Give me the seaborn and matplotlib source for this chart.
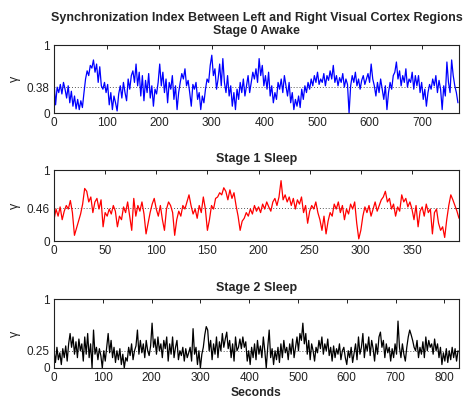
import numpy as np
import pandas as pd
import matplotlib
matplotlib.use("Agg")
import matplotlib.pyplot as plt
import seaborn as sns

# ---------------- data ----------------
main_title = "Synchronization Index Between Left and Right Visual Cortex Regions"
stage_titles = ["Stage 0 Awake", "Stage 1 Sleep", "Stage 2 Sleep"]
x_label = "Seconds"
y_label = "γ"
means = [0.38, 0.46, 0.25]
mean_labels = ["0.38", "0.46", "0.25"]
x_max = [770, 396, 830]
x_ticks = [
    [0, 100, 200, 300, 400, 500, 600, 700],
    [0, 50, 100, 150, 200, 250, 300, 350],
    [0, 100, 200, 300, 400, 500, 600, 700, 800],
]
steps = [3, 2, 3]
colors = ["#0000ff", "#ff0000", "#000000"]

awake = [
    0.45, 0.12, 0.38, 0.30, 0.42, 0.28, 0.45, 0.35, 0.22, 0.40,
    0.15, 0.32, 0.10, 0.25, 0.06, 0.20, 0.05, 0.18, 0.08, 0.30,
    0.50, 0.62, 0.55, 0.70, 0.66, 0.78, 0.60, 0.72, 0.45, 0.68,
    0.40, 0.35, 0.45, 0.30, 0.42, 0.12, 0.30, 0.05, 0.25, 0.15,
    0.03, 0.28, 0.40, 0.22, 0.45, 0.30, 0.18, 0.50, 0.35, 0.55,
    0.62, 0.45, 0.72, 0.40, 0.60, 0.25, 0.55, 0.18, 0.48, 0.30,
    0.58, 0.22, 0.40, 0.10, 0.35, 0.28, 0.45, 0.72, 0.40, 0.60,
    0.30, 0.50, 0.15, 0.45, 0.35, 0.55, 0.20, 0.40, 0.05, 0.30,
    0.45, 0.58, 0.50, 0.65, 0.40, 0.48, 0.30, 0.10, 0.42, 0.35,
    0.45, 0.20, 0.30, 0.05, 0.25, 0.15, 0.35, 0.50, 0.45, 0.70,
    0.85, 0.55, 0.65, 0.35, 0.50, 0.72, 0.40, 0.80, 0.45, 0.30,
    0.55, 0.25, 0.40, 0.10, 0.30, 0.05, 0.35, 0.20, 0.45, 0.30,
    0.50, 0.25, 0.40, 0.55, 0.30, 0.45, 0.60, 0.50, 0.65, 0.45,
    0.80, 0.55, 0.70, 0.40, 0.55, 0.35, 0.60, 0.25, 0.40, 0.15,
    0.30, 0.20, 0.45, 0.35, 0.50, 0.30, 0.55, 0.40, 0.25, 0.45,
    0.15, 0.30, 0.05, 0.20, 0.10, 0.25, 0.08, 0.35, 0.20, 0.40,
    0.30, 0.45, 0.35, 0.50, 0.40, 0.55, 0.45, 0.60, 0.42, 0.50,
    0.45, 0.58, 0.40, 0.55, 0.48, 0.62, 0.50, 0.70, 0.45, 0.55,
    0.40, 0.52, 0.45, 0.58, 0.38, 0.50, 0.42, 0.00, 0.40, 0.55,
    0.45, 0.60, 0.40, 0.50, 0.35, 0.48, 0.55, 0.42, 0.50, 0.58,
    0.45, 0.72, 0.50, 0.40, 0.25, 0.45, 0.30, 0.50, 0.35, 0.20,
    0.40, 0.05, 0.30, 0.45, 0.35, 0.55, 0.60, 0.75, 0.50, 0.62,
    0.40, 0.55, 0.45, 0.65, 0.38, 0.50, 0.45, 0.60, 0.35, 0.55,
    0.40, 0.55, 0.30, 0.45, 0.20, 0.35, 0.10, 0.30, 0.42, 0.35,
    0.50, 0.40, 0.55, 0.30, 0.48, 0.35, 0.05, 0.40, 0.25, 0.75,
    0.45, 0.30, 0.78, 0.55, 0.40, 0.30, 0.15,
]

sleep1 = [
    0.30, 0.45, 0.35, 0.48, 0.30, 0.42, 0.50, 0.45, 0.57, 0.40,
    0.08, 0.18, 0.28, 0.38, 0.52, 0.74, 0.70, 0.55, 0.62, 0.40,
    0.55, 0.60, 0.45, 0.58, 0.20, 0.40, 0.35, 0.45, 0.38, 0.50,
    0.42, 0.20, 0.35, 0.30, 0.48, 0.40, 0.55, 0.35, 0.15, 0.60,
    0.35, 0.50, 0.42, 0.55, 0.38, 0.10, 0.25, 0.40, 0.52, 0.60,
    0.45, 0.35, 0.50, 0.30, 0.15, 0.45, 0.55, 0.50, 0.40, 0.08,
    0.30, 0.42, 0.35, 0.50, 0.45, 0.55, 0.65, 0.50, 0.38, 0.45,
    0.32, 0.50, 0.40, 0.62, 0.45, 0.15, 0.30, 0.50, 0.45, 0.60,
    0.62, 0.68, 0.65, 0.75, 0.70, 0.58, 0.72, 0.60, 0.68, 0.50,
    0.35, 0.15, 0.28, 0.32, 0.40, 0.35, 0.45, 0.38, 0.50, 0.42,
    0.48, 0.40, 0.52, 0.45, 0.55, 0.48, 0.42, 0.55, 0.60, 0.50,
    0.62, 0.85, 0.58, 0.65, 0.55, 0.62, 0.50, 0.60, 0.45, 0.58,
    0.52, 0.62, 0.40, 0.50, 0.25, 0.42, 0.50, 0.45, 0.55, 0.40,
    0.30, 0.15, 0.35, 0.10, 0.28, 0.40, 0.35, 0.52, 0.45, 0.55,
    0.40, 0.50, 0.30, 0.45, 0.38, 0.52, 0.45, 0.55, 0.25, 0.03,
    0.15, 0.35, 0.48, 0.40, 0.50, 0.35, 0.45, 0.55, 0.42, 0.50,
    0.58, 0.62, 0.70, 0.55, 0.60, 0.45, 0.52, 0.35, 0.48, 0.42,
    0.65, 0.55, 0.60, 0.48, 0.55, 0.45, 0.30, 0.50, 0.20, 0.42,
    0.48, 0.35, 0.52, 0.40, 0.45, 0.10, 0.40, 0.45, 0.25, 0.15,
    0.20, 0.05, 0.30, 0.50, 0.65, 0.58, 0.50, 0.42, 0.32,
]

sleep2 = [
    0.25, 0.08, 0.30, 0.12, 0.22, 0.05, 0.28, 0.15, 0.32, 0.10,
    0.35, 0.50, 0.30, 0.45, 0.20, 0.38, 0.15, 0.42, 0.25, 0.35,
    0.10, 0.45, 0.20, 0.50, 0.15, 0.35, 0.00, 0.55, 0.20, 0.30,
    0.12, 0.28, 0.18, 0.00, 0.25, 0.10, 0.30, 0.50, 0.22, 0.40,
    0.15, 0.30, 0.08, 0.25, 0.12, 0.28, 0.05, 0.20, 0.00, 0.15,
    0.10, 0.30, 0.18, 0.35, 0.12, 0.25, 0.32, 0.55, 0.20, 0.40,
    0.22, 0.35, 0.15, 0.40, 0.25, 0.18, 0.32, 0.65, 0.30, 0.42,
    0.20, 0.45, 0.25, 0.35, 0.15, 0.40, 0.28, 0.45, 0.10, 0.35,
    0.20, 0.45, 0.15, 0.30, 0.40, 0.12, 0.25, 0.18, 0.30, 0.10,
    0.28, 0.15, 0.22, 0.30, 0.10, 0.57, 0.20, 0.30, 0.05, 0.25,
    0.00, 0.20, 0.30, 0.48, 0.60, 0.55, 0.25, 0.40, 0.12, 0.35,
    0.20, 0.45, 0.15, 0.38, 0.25, 0.50, 0.30, 0.42, 0.52, 0.28,
    0.40, 0.15, 0.35, 0.10, 0.45, 0.25, 0.30, 0.42, 0.28, 0.45,
    0.30, 0.38, 0.10, 0.25, 0.05, 0.30, 0.15, 0.35, 0.12, 0.40,
    0.20, 0.32, 0.15, 0.45, 0.25, 0.00, 0.30, 0.55, 0.15, 0.28,
    0.05, 0.25, 0.12, 0.30, 0.08, 0.35, 0.15, 0.40, 0.22, 0.30,
    0.12, 0.35, 0.20, 0.42, 0.15, 0.30, 0.45, 0.25, 0.50, 0.40,
    0.65, 0.35, 0.50, 0.20, 0.40, 0.12, 0.35, 0.25, 0.10, 0.30,
    0.22, 0.40, 0.28, 0.45, 0.20, 0.35, 0.25, 0.42, 0.18, 0.30,
    0.10, 0.32, 0.15, 0.28, 0.20, 0.35, 0.12, 0.25, 0.30, 0.15,
    0.05, 0.25, 0.15, 0.30, 0.08, 0.22, 0.35, 0.12, 0.45, 0.20,
    0.30, 0.50, 0.15, 0.35, 0.25, 0.45, 0.18, 0.40, 0.28, 0.10,
    0.35, 0.20, 0.45, 0.52, 0.30, 0.40, 0.15, 0.35, 0.22, 0.30,
    0.10, 0.28, 0.15, 0.35, 0.20, 0.68, 0.30, 0.15, 0.35, 0.20,
    0.10, 0.30, 0.45, 0.55, 0.48, 0.40, 0.30, 0.25, 0.40, 0.15,
    0.30, 0.20, 0.38, 0.15, 0.45, 0.25, 0.40, 0.30, 0.35, 0.20,
    0.42, 0.25, 0.35, 0.15, 0.30, 0.05, 0.22, 0.10, 0.28, 0.08,
    0.25, 0.12, 0.30, 0.15, 0.28, 0.10, 0.25,
]

series = [awake, sleep1, sleep2]

# ---------------- style ----------------
sns.set_style("white")
plt.rcParams["font.family"] = ["Liberation Sans", "DejaVu Sans"]
plt.rcParams["xtick.direction"] = "in"
plt.rcParams["ytick.direction"] = "in"

W, H = 468, 405
fig = plt.figure(figsize=(W / 100, H / 100), dpi=100)
boxes = [(45, 113), (170, 241), (299, 368)]
left_px, right_px = 54, 459

for i, (vals, (top, bot)) in enumerate(zip(series, boxes)):
    ax = fig.add_axes([left_px / W, 1 - bot / H, (right_px - left_px) / W, (bot - top) / H])
    t = np.arange(len(vals)) * steps[i]
    df = pd.DataFrame({"t": t, "v": vals})
    sns.lineplot(data=df, x="t", y="v", ax=ax, color=colors[i], linewidth=0.9,
                 estimator=None, sort=False)
    ax.axhline(means[i], color="#555555", linestyle=(0, (1, 2)), linewidth=0.7, zorder=0)
    ax.set_xlim(0, x_max[i])
    ax.set_ylim(0, 1)
    ax.set_xticks(x_ticks[i])
    ax.set_yticks([0, means[i], 1])
    ax.set_yticklabels(["0", mean_labels[i], "1"])
    ax.tick_params(axis="both", which="both", direction="in", length=3, width=0.7,
                   top=True, right=True, labelsize=8.5, labelcolor="#222222", pad=3,
                   color="#222222")
    for s in ax.spines.values():
        s.set_color("#222222")
        s.set_linewidth(0.8)
    ax.set_ylabel(y_label, fontsize=9, labelpad=4, color="#222222")
    ax.set_xlabel("")
    if i == 0:
        ax.set_title(main_title + "\n" + stage_titles[i], fontsize=9,
                     fontweight="bold", pad=8, linespacing=1.15)
    else:
        ax.set_title(stage_titles[i], fontsize=9, fontweight="bold", pad=6)
    if i == 2:
        ax.set_xlabel(x_label, fontsize=8.7, fontweight="bold", labelpad=2)

fig.savefig("out.png", dpi=100, facecolor="white")
